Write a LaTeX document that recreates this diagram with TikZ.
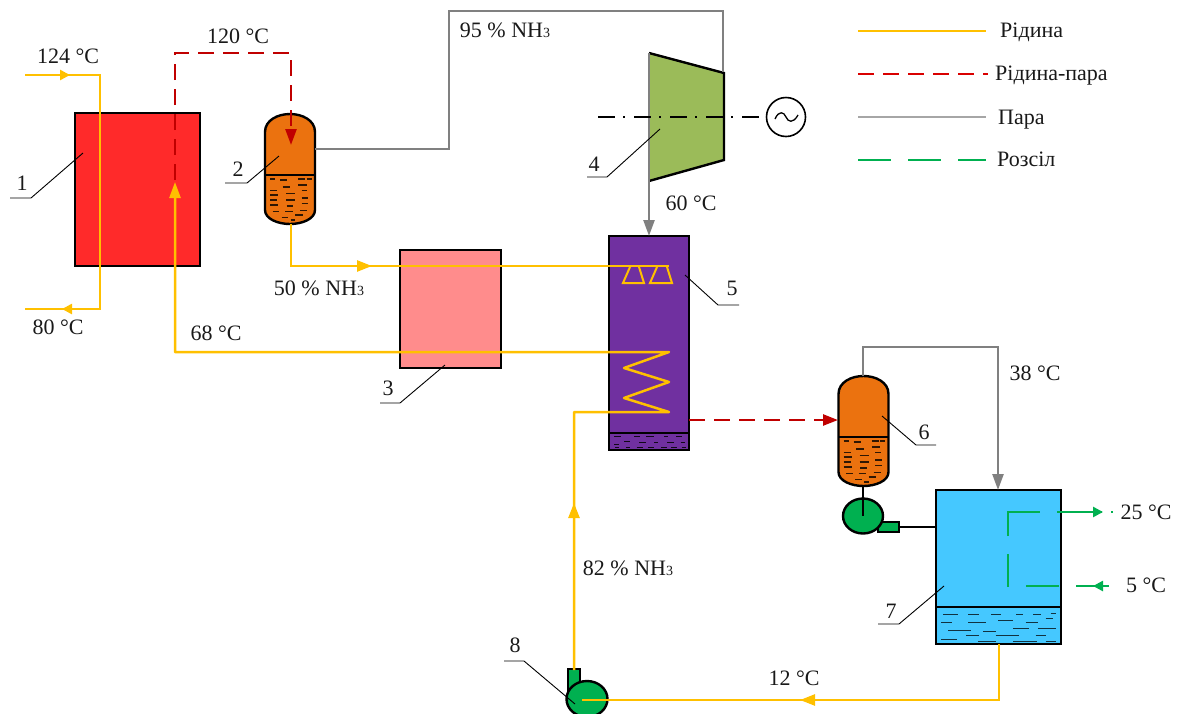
\documentclass[tikz,border=0pt]{standalone}
\usepackage{fontspec}
\setmainfont{Liberation Serif}
\usetikzlibrary{arrows.meta,decorations.markings}
\definecolor{liq}{HTML}{FFC000}
\definecolor{mix}{HTML}{C00000}
\definecolor{vap}{HTML}{808080}
\definecolor{brine}{HTML}{00B050}
\definecolor{boxred}{HTML}{FF2A2A}
\definecolor{boxpink}{HTML}{FF8C8C}
\definecolor{boxpurple}{HTML}{7030A0}
\definecolor{boxorange}{HTML}{EB720F}
\definecolor{boxgreen}{HTML}{9BBB59}
\definecolor{boxblue}{HTML}{45C8FF}
\tikzset{
  lbl/.style={font=\fontsize{22}{25}\selectfont,inner sep=0pt,text=black!90},
  leglbl/.style={lbl,anchor=base west},
  equip/.style={draw=black,line width=2.4pt,anchor=north west,inner sep=0pt,outer sep=0pt},
  liquid/.style={color=liq,line width=2.5pt},
  mixed/.style={color=mix,line width=2.5pt,dash pattern=on 16pt off 9pt},
  vapour/.style={color=vap,line width=2.5pt},
  lead/.style={draw=black,line width=.9pt},
  tipS/.style={postaction={decorate,decoration={markings,mark=at position #1 with {\arrow{Triangle[length=10pt,width=10pt]}}}}},
  tipL/.style={postaction={decorate,decoration={markings,mark=at position #1 with {\arrow{Triangle[length=15pt,width=11pt]}}}}},
  vessel/.pic={
    \draw[fill=boxorange,draw=black,line width=2.4pt]
      (-25,18) .. controls (-25,6) and (-12,0) .. (0,0) .. controls (12,0) and (25,6) .. (25,18)
      -- (25,96) .. controls (25,105) and (12,110) .. (0,110) .. controls (-12,110) and (-25,105) .. (-25,96) -- cycle;
    \draw[black,line width=2.4pt] (-25,61) -- (25,61);
    \foreach \a/\b/\c in {810/825/537,840/862/540,895/915/537,920/935/537,848/870/561,895/920/555,810/832/572,858/885/580,905/922/572,810/835/585,810/832/600,858/885/600,905/925/594,810/835/615,860/880/618,905/925/610,818/838/635,855/878/635,900/922/632,845/865/652,885/908/645,872/885/660}
      \draw[black!80!boxorange,line width=1.2pt] ({(\a-870)/3},{(\c-342)/3}) -- ({(\b-870)/3},{(\c-342)/3});
  }
}
\begin{document}
\begin{tikzpicture}[x=1pt,y=-1pt]
\useasboundingbox (0,0) rectangle (1178,713);
% equipment
\node[equip,fill=boxred,minimum width=125pt,minimum height=153pt] (heater) at (75,113) {};
\node[equip,fill=boxpink,minimum width=101pt,minimum height=118pt] (regen) at (400,250) {};
\node[equip,fill=boxpurple,minimum width=80pt,minimum height=214pt] (absorber) at (609,236) {};
\node[equip,fill=boxblue,minimum width=125pt,minimum height=154pt] (cond) at (936,490) {};
\draw[black,line width=2.4pt] (609,433) -- (689,433);
\draw[black,line width=1.4pt] (936,607) -- (1061,607);
\foreach \a/\b/\c in {103/122/650,163/180/650,198/222/650,253/265/650,288/305/650,132/150/663,178/197/668,222/235/668,262/282/668,302/315/668,103/118/672,105/118/683,138/150/683,170/188/683,205/222/683,243/262/683,273/292/683,305/318/683}
  \draw[black!85!boxpurple,line width=1pt] ({580+\a/3},{220+\c/3}) -- ({580+\b/3},{220+\c/3});
\foreach \a/\b/\c in {370/415/762,445/477/762,513/543/762,588/610/762,640/662/762,692/707/760,677/700/775,535/580/781,363/397/787,445/497/787,617/655/787,580/627/806,655/707/806,385/453/811,490/527/813,438/477/826,527/597/826,647/677/826,363/410/839,475/527/845,580/652/845,677/707/845}
  \draw[black!75!boxblue,line width=1pt] ({820+\a/3},{360+\c/3}) -- ({820+\b/3},{360+\c/3});
\pic at (290,114) {vessel};
\pic at (863.5,376) {vessel};
% turbine
\coordinate (tA) at (649,53); \coordinate (tB) at (724,73); \coordinate (tC) at (724,160); \coordinate (tD) at (649,181);
\fill[boxgreen] (tA) -- (tB) -- (tC) -- (tD) -- cycle;
\draw[black,line width=2.4pt,line join=miter] (tA) -- (tB) -- (tC) -- (tD);
\draw[vapour] (tA) -- (tD);
\node[draw=black,line width=1.6pt,circle,minimum size=39pt,inner sep=0pt] (gen) at (786,117) {};
\draw[black,line width=1.3pt] (775,119) .. controls (779,110) and (784,112) .. (786,117) .. controls (788,122) and (793,124) .. (798,115);
\coordinate (shaft) at (598,117);
\draw[black,line width=1.8pt,dash pattern=on 17pt off 8pt on 2pt off 9pt] (shaft) -- (gen.west);
% pumps
\coordinate (p6) at (863,516);
\node[equip,draw=black,fill=brine,minimum width=21pt,minimum height=10pt] (p6out) at (878,522) {};
\draw[black,line width=2.4pt,fill=brine] (p6) ellipse (20 and 17.5);
\draw[black,line width=2.4pt] (863,486) -- (p6);
\draw[black,line width=2.4pt] (p6out.east) -- (p6out.east -| cond.west);
\coordinate (p8) at (587,699);
\node[equip,fill=brine,minimum width=12pt,minimum height=21pt] (p8out) at (568,669) {};
\draw[black,line width=2.4pt,fill=brine] (p8) ellipse (20.5 and 18);
% heating loop
\coordinate (hIn) at (25,75); \coordinate (hT) at (100,75); \coordinate (hB) at (100,309); \coordinate (hOut) at (25,309);
\draw[liquid,tipS=45pt,tipS=347pt] (hIn) -- (hT) -- (hB) -- (hOut);
% vapour-liquid to separator
\coordinate (mA) at (175,180); \coordinate (mB) at (175,53); \coordinate (mC) at (291,53); \coordinate (sepIn) at (291,145);
\draw[mixed,-{Triangle[length=16pt,width=11pt]}] (mA) -- (mB) -- (mC) -- (sepIn);
% strong solution
\coordinate (pUp) at (574,670); \coordinate (c0) at (574,412); \coordinate (c1) at (669,412); \coordinate (c2) at (624,398); \coordinate (c3) at (669,382); \coordinate (c4) at (624,368); \coordinate (c5) at (669,352); \coordinate (c6) at (175,352); \coordinate (c7) at (175,182);
\draw[liquid,line join=round,tipL=167pt,-{Triangle[length=16pt,width=11pt]}] (pUp) -- (c0) -- (c1) -- (c2) -- (c3) -- (c4) -- (c5) -- (c6) -- (c7);
% weak solution
\coordinate (wA) at (291,224); \coordinate (wB) at (291,266); \coordinate (wC) at (669,266);
\draw[liquid,tipL=123pt] (wA) -- (wB) -- (wC);
\draw[liquid,line width=2pt] (630,267) -- (623,283) -- (644,283) -- (639,267);
\draw[liquid,line width=2pt] (657,267) -- (650,283) -- (672,283) -- (667,267);
% vapour lines
\coordinate (vA) at (315,149); \coordinate (vB) at (449,149); \coordinate (vC) at (449,11); \coordinate (vD) at (723,11); \coordinate (vE) at (723,72);
\draw[vapour] (vA) -- (vB) -- (vC) -- (vD) -- (vE);
\draw[vapour,-{Triangle[length=16pt,width=11pt]}] (tD) -- (tD |- absorber.north);
\coordinate (mOut) at (689,420); \coordinate (sep6) at (838,420);
\draw[mixed,-{Triangle[length=15pt,width=11pt]}] (mOut) -- (sep6);
\coordinate (vF) at (863,376); \coordinate (vG) at (863,347); \coordinate (vH) at (998,347); \coordinate (vI) at (998,490);
\draw[vapour,-{Triangle[length=16pt,width=11pt]}] (vF) -- (vG) -- (vH) -- (vI);
% condensate
\coordinate (lA) at (999,644); \coordinate (lB) at (999,700); \coordinate (lC) at (582,700);
\draw[liquid,tipL=255pt] (lA) -- (lB) -- (lC);
% brine
\coordinate (bIn) at (1109,586); \coordinate (bT) at (1008,586); \coordinate (bU) at (1008,512); \coordinate (bOut) at (1115,512);
\draw[color=brine,line width=2.5pt,dash pattern=on 33pt off 17pt on 33pt off 17pt on 33pt off 18pt on 56pt off 17pt on 45pt off 9pt on 2pt off 99pt,tipS=16pt,tipS=270pt] (bIn) -- (bT) -- (bU) -- (bOut);
% leaders
\coordinate (a1) at (83,153); \coordinate (b1) at (31,198); \coordinate (d1) at (10,198);
\draw[lead] (a1) -- (b1) -- (d1);
\coordinate (a2) at (279,156); \coordinate (b2) at (247,183); \coordinate (d2) at (225,183);
\draw[lead] (a2) -- (b2) -- (d2);
\coordinate (a3) at (445,365); \coordinate (b3) at (400,403); \coordinate (d3) at (380,403);
\draw[lead] (a3) -- (b3) -- (d3);
\coordinate (a4) at (660,129); \coordinate (b4) at (607,177); \coordinate (d4) at (587,177);
\draw[lead] (a4) -- (b4) -- (d4);
\coordinate (a5) at (685,275); \coordinate (b5) at (718,305); \coordinate (d5) at (739,305);
\draw[lead] (a5) -- (b5) -- (d5);
\coordinate (a6) at (882,416); \coordinate (b6) at (916,445); \coordinate (d6) at (936,445);
\draw[lead] (a6) -- (b6) -- (d6);
\coordinate (a7) at (944,586); \coordinate (b7) at (899,624); \coordinate (d7) at (878,624);
\draw[lead] (a7) -- (b7) -- (d7);
\coordinate (a8) at (575,704); \coordinate (b8) at (524,661); \coordinate (d8) at (504,661);
\draw[lead] (a8) -- (b8) -- (d8);
% labels
\node[lbl] (n1) at (22,183) {1};
\node[lbl] (n2) at (238,169) {2};
\node[lbl] (n3) at (388,388) {3};
\node[lbl] (n4) at (594,164) {4};
\node[lbl] (n5) at (732,288) {5};
\node[lbl] (n6) at (924,432) {6};
\node[lbl] (n7) at (891,611) {7};
\node[lbl] (n8) at (515,645) {8};
\node[lbl] (t124) at (68,56) {124 °C};
\node[lbl] (t120) at (238,36) {120 °C};
\node[lbl] (t95) at (505,30) {95 \% NH{\fontsize{14}{14}\selectfont 3}};
\node[lbl] (t60) at (691,203) {60 °C};
\node[lbl] (t50) at (319,288) {50 \% NH{\fontsize{14}{14}\selectfont 3}};
\node[lbl] (t80) at (58,327) {80 °C};
\node[lbl] (t68) at (216,333) {68 °C};
\node[lbl] (t38) at (1035,373) {38 °C};
\node[lbl] (t25) at (1146,512) {25 °C};
\node[lbl] (t5) at (1146,585) {5 °C};
\node[lbl] (t82) at (628,568) {82 \% NH{\fontsize{14}{14}\selectfont 3}};
\node[lbl] (t12) at (794,678) {12 °C};
% legend
\coordinate (l1a) at (858,31); \coordinate (l2a) at (858,74); \coordinate (l3a) at (858,117); \coordinate (l4a) at (858,160);
\node[leglbl] (l1) at (1000,37) {Рідина};
\node[leglbl] (l2) at (995,80) {Рідина-пара};
\node[leglbl] (l3) at (998,124) {Пара};
\node[leglbl] (l4) at (997,166) {Розсіл};
\coordinate (l1b) at (986,31); \coordinate (l2b) at (988,74); \coordinate (l3b) at (986,117); \coordinate (l4b) at (986,160);
\draw[liq,line width=2pt] (l1a) -- (l1b);
\draw[red!85!black,line width=2pt,dash pattern=on 16pt off 9pt] (l2a) -- (l2b);
\draw[black!35,line width=2pt] (l3a) -- (l3b);
\draw[brine,line width=2pt,dash pattern=on 33pt off 17pt] (l4a) -- (l4b);
\end{tikzpicture}
\end{document}
